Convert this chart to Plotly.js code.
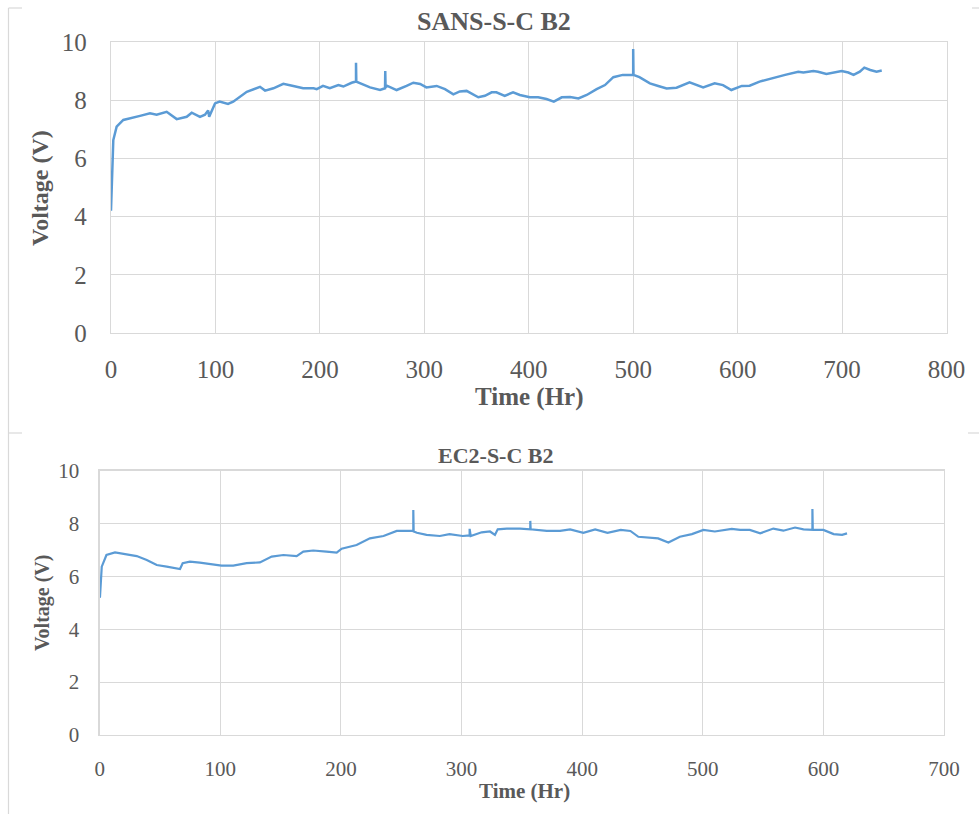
<!DOCTYPE html>
<html>
<head>
<meta charset="utf-8">
<script src="https://cdn.plot.ly/plotly-3.0.1.min.js"></script>
<style>html,body{margin:0;padding:0;background:#fff;}#chart{width:979px;height:814px;}</style>
</head>
<body>
<div id="chart"></div>
<script>
// SANS-S-C B2 (top panel)
const sansTime = [0, 0.6, 2.2, 5.4, 11.8, 27.8, 37.3, 43.7, 53.3, 62.9, 72.5, 77.3, 85.2, 90, 93, 94, 99.6, 104, 112, 117, 130, 142.7, 147.5, 155.5, 165, 174.6, 184, 194, 197, 203, 209.5, 217.7, 222.5, 230.4, 234.6, 234.6, 234.9, 240, 248, 257.6, 262.4, 262.6, 262.9, 264.6, 273.5, 283, 289.5, 296, 302, 311.8, 319.8, 327.8, 334, 340.5, 351.7, 358, 364.5, 369, 377, 385, 391.5, 401, 409, 417, 424, 431.6, 439.6, 447.6, 455.5, 465, 473, 481, 490, 500, 500, 500.3, 506, 516, 524, 532, 541.5, 554, 567, 578, 586, 594, 604, 611.5, 621, 634, 645.5, 658, 663, 672.5, 677, 685, 692, 699.6, 706, 711, 717, 721.3, 727, 733, 738];
const sansVolt = [4.2, 5.0, 6.63, 7.09, 7.32, 7.46, 7.55, 7.5, 7.6, 7.35, 7.43, 7.57, 7.43, 7.5, 7.65, 7.43, 7.89, 7.95, 7.87, 7.95, 8.29, 8.46, 8.33, 8.41, 8.56, 8.49, 8.41, 8.41, 8.38, 8.49, 8.41, 8.52, 8.47, 8.6, 8.64, 9.29, 8.64, 8.56, 8.44, 8.35, 8.41, 9.0, 8.45, 8.49, 8.35, 8.49, 8.6, 8.56, 8.44, 8.49, 8.38, 8.2, 8.3, 8.32, 8.1, 8.15, 8.27, 8.27, 8.15, 8.27, 8.18, 8.1, 8.1, 8.04, 7.95, 8.1, 8.11, 8.06, 8.18, 8.38, 8.52, 8.79, 8.87, 8.87, 9.76, 8.87, 8.79, 8.58, 8.49, 8.4, 8.43, 8.61, 8.44, 8.58, 8.52, 8.35, 8.49, 8.5, 8.64, 8.75, 8.87, 8.98, 8.95, 9.0, 8.98, 8.9, 8.95, 9.0, 8.95, 8.87, 8.98, 9.12, 9.04, 8.98, 9.02];

// EC2-S-C B2 (bottom panel)
const ecTime = [0, 0.25, 1.7, 5.6, 12.7, 19.6, 30.7, 39, 47.3, 55.6, 66.6, 68.8, 74.8, 83, 91.3, 101, 110.7, 121.8, 132.8, 142.6, 152.3, 163.3, 168.8, 177, 188, 196.5, 200.6, 213, 224, 235.3, 246.3, 260, 260, 260.3, 263, 271, 282, 290, 301, 306.7, 306.7, 307, 307.6, 316.7, 323.6, 327.7, 330, 337.5, 348.5, 357, 357, 357.3, 370.7, 381.7, 390, 401, 410.8, 421, 432, 440, 446.6, 456, 463, 471.5, 481, 491, 500.5, 510, 517, 524, 531, 539, 547.6, 558.5, 566.8, 576.5, 583.5, 590.9, 590.9, 591.2, 600, 608.5, 615.5, 619.6];
const ecVolt = [5.2, 5.23, 6.37, 6.81, 6.91, 6.85, 6.77, 6.62, 6.43, 6.37, 6.28, 6.5, 6.56, 6.52, 6.46, 6.41, 6.41, 6.5, 6.53, 6.75, 6.81, 6.77, 6.94, 6.98, 6.94, 6.9, 7.05, 7.19, 7.44, 7.53, 7.72, 7.72, 8.51, 7.7, 7.65, 7.57, 7.53, 7.6, 7.53, 7.55, 7.8, 7.55, 7.53, 7.67, 7.7, 7.57, 7.78, 7.81, 7.81, 7.78, 8.1, 7.78, 7.72, 7.72, 7.78, 7.65, 7.78, 7.65, 7.76, 7.72, 7.5, 7.47, 7.44, 7.28, 7.5, 7.6, 7.76, 7.7, 7.76, 7.8, 7.76, 7.76, 7.63, 7.81, 7.73, 7.85, 7.78, 7.76, 8.55, 7.76, 7.76, 7.6, 7.57, 7.63];

const topTitle = "SANS-S-C B2";
const bottomTitle = "EC2-S-C B2";
const xTitle = "Time (Hr)";
const yTitle = "Voltage (V)";

const W = 979, H = 814;
const px = v => v / W;
const py = v => 1 - v / H;

const lineColor = "#5b9bd5";
const textColor = "#595959";
const gridColor = "#d9d9d9";
const serif = "Liberation Serif, Times New Roman, serif";

const traces = [
  {x: sansTime, y: sansVolt, type: "scatter", mode: "lines", line: {color: lineColor, width: 2.5}, xaxis: "x", yaxis: "y", hoverinfo: "skip"},
  {x: ecTime, y: ecVolt, type: "scatter", mode: "lines", line: {color: lineColor, width: 2.2}, xaxis: "x2", yaxis: "y2", hoverinfo: "skip"}
];

function axisBase(fontSize, standoff) {
  return {
    showgrid: true, gridcolor: gridColor, gridwidth: 1,
    showline: true, mirror: true, linecolor: gridColor, linewidth: 1.3,
    zeroline: false,
    ticks: "outside", ticklen: standoff, tickcolor: "rgba(0,0,0,0)",
    tickfont: {family: serif, size: fontSize, color: textColor},
    fixedrange: true
  };
}

const layout = {
  width: W, height: H,
  margin: {l: 0, r: 0, t: 0, b: 0},
  paper_bgcolor: "#fff", plot_bgcolor: "#fff",
  showlegend: false,
  xaxis: Object.assign(axisBase(25, 14), {domain: [px(111), px(946.5)], range: [0, 800], dtick: 100, tick0: 0, anchor: "y"}),
  yaxis: Object.assign(axisBase(25, 18), {domain: [py(333), py(42)], range: [0, 10], dtick: 2, tick0: 0, anchor: "x"}),
  xaxis2: Object.assign(axisBase(21, 14), {domain: [px(99.7), px(944)], range: [0, 700], dtick: 100, tick0: 0, anchor: "y2"}),
  yaxis2: Object.assign(axisBase(21, 15), {domain: [py(735), py(470.7)], range: [0, 10], dtick: 2, tick0: 0, anchor: "x2"}),
  annotations: [
    {text: "<b>" + topTitle + "</b>", x: px(493.5), y: py(21), xref: "paper", yref: "paper", xanchor: "center", yanchor: "middle", showarrow: false, font: {family: serif, size: 26, color: textColor}},
    {text: "<b>" + xTitle + "</b>", x: px(529), y: py(397), xref: "paper", yref: "paper", xanchor: "center", yanchor: "middle", showarrow: false, font: {family: serif, size: 25, color: textColor}},
    {text: "<b>" + yTitle + "</b>", x: px(40), y: py(188), xref: "paper", yref: "paper", xanchor: "center", yanchor: "middle", textangle: -90, showarrow: false, font: {family: serif, size: 24, color: textColor}},
    {text: "<b>" + bottomTitle + "</b>", x: px(496), y: py(455), xref: "paper", yref: "paper", xanchor: "center", yanchor: "middle", showarrow: false, font: {family: serif, size: 22, color: textColor}},
    {text: "<b>" + xTitle + "</b>", x: px(524), y: py(791), xref: "paper", yref: "paper", xanchor: "center", yanchor: "middle", showarrow: false, font: {family: serif, size: 21, color: textColor}},
    {text: "<b>" + yTitle + "</b>", x: px(42), y: py(603), xref: "paper", yref: "paper", xanchor: "center", yanchor: "middle", textangle: -90, showarrow: false, font: {family: serif, size: 20, color: textColor}}
  ],
  shapes: [
    {type: "line", xref: "paper", yref: "paper", x0: px(8.5), x1: px(8.5), y0: py(8), y1: py(814), line: {color: gridColor, width: 1.2}},
    {type: "line", xref: "paper", yref: "paper", x0: px(8.5), x1: px(22), y0: py(8), y1: py(8), line: {color: gridColor, width: 1.2}},
    {type: "line", xref: "paper", yref: "paper", x0: px(8.5), x1: px(22), y0: py(433), y1: py(433), line: {color: gridColor, width: 1.2}},
    {type: "line", xref: "paper", yref: "paper", x0: px(972), x1: px(979), y0: py(8), y1: py(8), line: {color: gridColor, width: 1.2}},
    {type: "line", xref: "paper", yref: "paper", x0: px(968), x1: px(979), y0: py(433), y1: py(433), line: {color: gridColor, width: 1.2}}
  ]
};

Plotly.newPlot("chart", traces, layout, {staticPlot: true, displayModeBar: false});
</script>
</body>
</html>
